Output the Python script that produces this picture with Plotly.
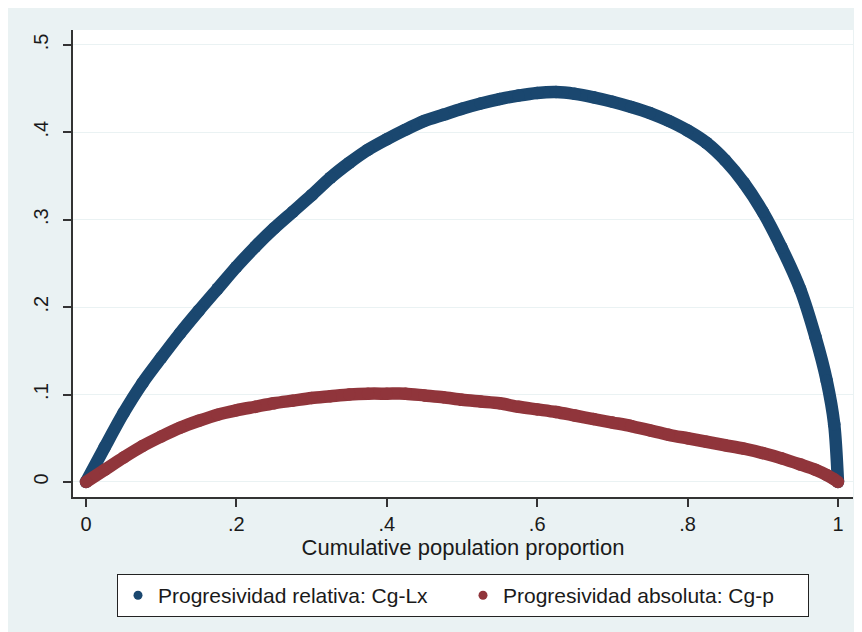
import plotly.graph_objects as go

# Cumulative population proportion
pop = [0, 0.025, 0.05, 0.075, 0.1, 0.125, 0.15, 0.175, 0.2, 0.225, 0.25, 0.275,
       0.3, 0.325, 0.35, 0.375, 0.4, 0.425, 0.45, 0.475, 0.5, 0.525, 0.55, 0.575,
       0.6, 0.625, 0.65, 0.675, 0.7, 0.725, 0.75, 0.775, 0.8, 0.825, 0.85, 0.875,
       0.9, 0.925, 0.95, 0.97, 0.985, 0.995, 1.0]

# Progresividad relativa: Cg-Lx
relativa = [0, 0.040, 0.079, 0.113, 0.142, 0.170, 0.196, 0.221, 0.246, 0.269, 0.290, 0.309,
            0.328, 0.348, 0.365, 0.380, 0.392, 0.403, 0.413, 0.420, 0.427, 0.433, 0.438, 0.442,
            0.445, 0.446, 0.444, 0.440, 0.435, 0.429, 0.422, 0.413, 0.402, 0.388, 0.368, 0.342,
            0.309, 0.268, 0.220, 0.166, 0.116, 0.066, 0.0]

# Progresividad absoluta: Cg-p
absoluta = [0, 0.014, 0.028, 0.041, 0.052, 0.062, 0.070, 0.077, 0.082, 0.086, 0.090, 0.093,
            0.096, 0.098, 0.100, 0.101, 0.101, 0.101, 0.099, 0.097, 0.094, 0.092, 0.090, 0.086,
            0.083, 0.080, 0.076, 0.072, 0.068, 0.064, 0.059, 0.054, 0.050, 0.046, 0.042, 0.038,
            0.033, 0.027, 0.020, 0.014, 0.008, 0.003, 0.0]

series_names = ["Progresividad relativa: Cg-Lx", "Progresividad absoluta: Cg-p"]
colors = ["#1A476F", "#90353B"]

x_ticks = [0, 0.2, 0.4, 0.6, 0.8, 1.0]
x_ticktext = ["0", ".2", ".4", ".6", ".8", "1"]
y_ticks = [0, 0.1, 0.2, 0.3, 0.4, 0.5]
y_ticktext = ["0", ".1", ".2", ".3", ".4", ".5"]

FONT = "Liberation Sans, Arial, sans-serif"
BG = "#EAF2F3"

fig = go.Figure()
for ys, col in zip([relativa, absoluta], colors):
    fig.add_trace(go.Scatter(
        x=pop, y=ys, mode="lines+markers",
        line=dict(color=col, width=12.5, shape="spline", smoothing=0.8),
        marker=dict(color=col, size=12.5, line=dict(width=0)),
        showlegend=False, hoverinfo="skip"))
for name, col in zip(series_names, colors):
    fig.add_trace(go.Scatter(
        x=[None], y=[None], mode="markers", name=name,
        marker=dict(color=col, size=9, line=dict(width=0))))

W, H = 862, 632
L, T, R, B = 65, 22, 17, 143

fig.update_layout(
    width=W, height=H,
    margin=dict(l=L, r=R, t=T, b=B, pad=0),
    paper_bgcolor=BG, plot_bgcolor="white",
    font=dict(family=FONT, size=20, color="#1a1a1a"),
    legend=dict(orientation="h", x=0.5, xanchor="center", y=-0.165, yanchor="top",
                bgcolor="white", bordercolor="#222", borderwidth=1,
                font=dict(size=21), itemsizing="trace", itemwidth=30,
                entrywidth=300, tracegroupgap=0),
    xaxis=dict(range=[-0.0173, 1.020], tickvals=x_ticks, ticktext=x_ticktext,
               showgrid=False, zeroline=False, showline=True, linecolor="#333",
               linewidth=1.5, ticks="outside", ticklen=8, tickcolor="#333",
               tickwidth=1.5, automargin=False,
               title=dict(text="Cumulative population proportion", standoff=0,
                          font=dict(size=22))),
    yaxis=dict(range=[-0.0172, 0.517], tickvals=y_ticks, ticktext=y_ticktext,
               tickangle=-90, showgrid=True, gridcolor=BG, gridwidth=1.2,
               zeroline=False, showline=True, linecolor="#333", linewidth=1.5,
               ticks="outside", ticklen=8, tickcolor="#333", tickwidth=1.5,
               ticklabelstandoff=7, automargin=False),
)

fig.write_html("out.html")
